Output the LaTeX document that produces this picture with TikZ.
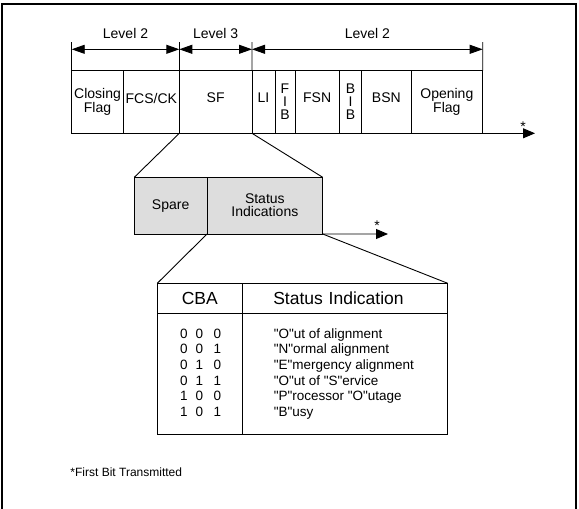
\documentclass[tikz,border=0pt]{standalone}
\usepackage{fontspec}
\setmainfont{Liberation Sans}
\newfontfamily\plainsans{Liberation Sans}
\usetikzlibrary{arrows.meta}
\definecolor{sparegray}{RGB}{221,221,221}

\begin{document}
\begin{tikzpicture}[x=1pt, y=-1pt, line width=0.9pt,
  cell/.style={draw, outer sep=0pt, inner sep=0pt, minimum height=62.6pt,
    align=center, font=\fontsize{14}{13}\selectfont, anchor=north west},
  raised/.style={text depth=8pt},
  spcell/.style={cell, fill=sparegray, minimum height=56.7pt},
  hcell/.style={draw, outer sep=0pt, inner sep=0pt, minimum height=30pt,
    font=\fontsize{17.5}{19}\selectfont, anchor=north west},
  bcell/.style={draw, outer sep=0pt, inner sep=0pt, minimum height=120.7pt, anchor=north west},
  lvl/.style={font=\fontsize{14}{16}\selectfont, inner sep=0pt},
  row/.style={font=\plainsans\fontsize{13.5}{15}\selectfont, inner sep=0pt, anchor=base},
  tip/.style={-{Triangle[length=12pt, width=10pt]}},
  both/.style={{Triangle[length=13pt, width=9pt]}-{Triangle[length=13pt, width=9pt]}}]
\useasboundingbox (0,0) rectangle (579,509);
\draw [line width=2.3pt] (2.2,509) -- (2.2,4.3) -- (576,4.3) -- (576,509);

\node[cell, minimum width=51.6pt] (cf) at (71.7,70.7) {Closing\\Flag};
\node[cell, raised, minimum width=56pt] (fcs) at (cf.north east) {FCS/CK};
\node[cell, raised, minimum width=72.7pt] (sf) at (fcs.north east) {SF};
\node[cell, raised, minimum width=23pt] (li) at (sf.north east) {LI};
\node[cell, minimum width=20pt] (fib) at (li.north east) {F\\I\\B};
\node[cell, raised, minimum width=44.3pt] (fsn) at (fib.north east) {FSN};
\node[cell, minimum width=22.4pt] (bib) at (fsn.north east) {B\\I\\B};
\node[cell, raised, minimum width=49.3pt] (bsn) at (bib.north east) {BSN};
\node[cell, minimum width=71.7pt] (of) at (bsn.north east) {Opening\\Flag};

\coordinate (t1) at (71.7,42);
\coordinate (t2) at (179.3,42);
\coordinate (t3) at (252,42);
\coordinate (t4) at (482.7,42);
\draw (t1) -- (cf.north west);
\draw (t2) -- (sf.north west);
\draw (t3) -- (li.north west);
\draw (t4) -- (of.north east);
\coordinate (l1) at (71.7,49.3);
\coordinate (l2) at (179.3,49.3);
\coordinate (l3) at (252,49.3);
\coordinate (l4) at (482.7,49.3);
\draw [both] (l1) -- node[lvl, above=10pt] {Level 2} (l2);
\draw [both] (l2) -- node[lvl, above=10pt] {Level 3} (l3);
\draw [both] (l3) -- node[lvl, above=10pt] {Level 2} (l4);

\coordinate (axend) at (535,133.3);
\draw [tip] (cf.south west) -- (axend);
\node[lvl, anchor=base] (star1) at (523,131.5) {*};

\node[spcell, minimum width=72.7pt] (sp) at (134.3,177.3) {Spare};
\node[spcell, minimum width=115.7pt] (si) at (sp.north east) {Status\\Indications};
\draw (sf.south west) -- (sp.north west);
\draw (sf.south east) -- (si.north east);
\coordinate (siend) at (388,234);
\draw [tip] (si.south east) -- (siend);
\node[lvl, anchor=base] (star2) at (377,230.5) {*};

\node[hcell, minimum width=85pt] (cbah) at (157.3,283.3) {CBA};
\node[hcell, inner xsep=31pt, text width=143.4pt, align=left] (indh) at (cbah.north east) {Status Indication};
\node[bcell, minimum width=85pt] (cbab) at (cbah.south west) {};
\node[bcell, minimum width=205.4pt] (indb) at (cbab.north east) {};
\draw (sp.south east) -- (cbah.north west);
\draw (si.south east) -- (indh.north east);

\foreach \a/\b/\c/\txt [count=\i] in {0/0/0/{"O"ut of alignment},
  0/0/1/{"N"ormal alignment}, 0/1/0/{"E"mergency alignment},
  0/1/1/{"O"ut of "S"ervice}, 1/0/0/{"P"rocessor "O"utage}, 1/0/1/{"B"usy}} {
  \node[row] (ca\i) at (184,322.4+15.7*\i) {\a};
  \node[row] (cb\i) at (199.5,322.4+15.7*\i) {\b};
  \node[row] (cc\i) at (217.5,322.4+15.7*\i) {\c};
  \node[row, anchor=base west] (st\i) at (273.3,322.4+15.7*\i) {\txt};
}

\node[font=\fontsize{12}{14}\selectfont, inner sep=0pt, anchor=base west] (fn) at (70,476) {*First Bit Transmitted};
\end{tikzpicture}
\end{document}
